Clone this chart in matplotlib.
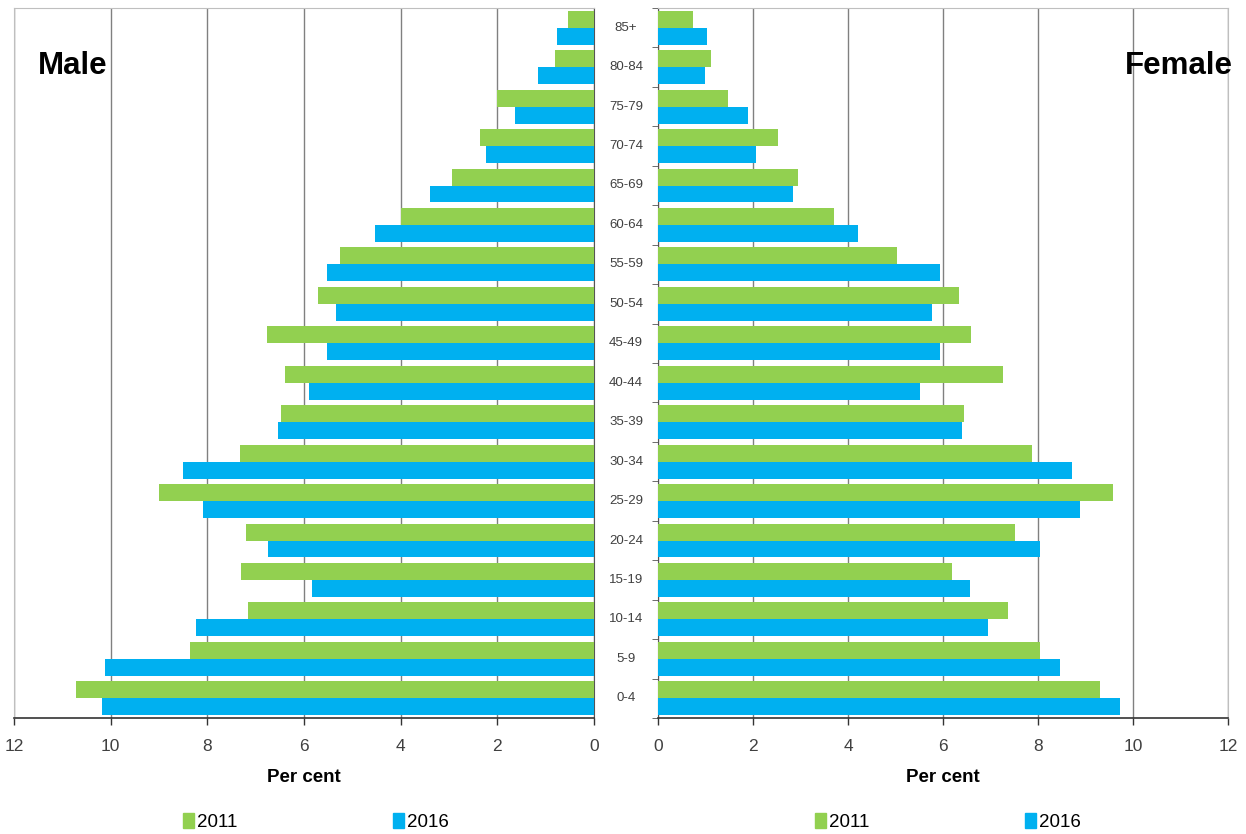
import matplotlib
matplotlib.use("Agg")
import matplotlib.pyplot as plt
from matplotlib.patches import Patch
from matplotlib.ticker import MultipleLocator
import numpy as np

plt.rcParams["font.family"] = ["Liberation Sans", "DejaVu Sans"]

# grupos etarios, de baixo para cima
idades = ["0-4", "5-9", "10-14", "15-19", "20-24", "25-29", "30-34", "35-39",
          "40-44", "45-49", "50-54", "55-59", "60-64", "65-69", "70-74",
          "75-79", "80-84", "85+"]

homens_2011 = [10.72, 8.36, 7.16, 7.31, 7.2, 8.99, 7.33, 6.48, 6.4, 6.77,
               5.71, 5.26, 4.0, 2.94, 2.36, 2.0, 0.81, 0.54]
homens_2016 = [10.17, 10.12, 8.24, 5.84, 6.75, 8.1, 8.51, 6.54, 5.9, 5.53,
               5.34, 5.53, 4.53, 3.4, 2.24, 1.64, 1.16, 0.77]
mulheres_2011 = [9.3, 8.04, 7.37, 6.19, 7.52, 9.58, 7.87, 6.44, 7.26, 6.59,
                 6.34, 5.03, 3.7, 2.95, 2.53, 1.47, 1.12, 0.74]
mulheres_2016 = [9.73, 8.46, 6.95, 6.57, 8.04, 8.88, 8.72, 6.4, 5.52, 5.94,
                 5.77, 5.94, 4.21, 2.84, 2.06, 1.89, 0.99, 1.03]

anos = ["2011", "2016"]
cor_2011 = "#92D050"
cor_2016 = "#00B0F0"

W, H = 1246, 834
fig = plt.figure(figsize=(W / 100, H / 100), dpi=100)

def caixa(x0, x1, y0, y1):
    return [x0 / W, 1 - y1 / H, (x1 - x0) / W, (y1 - y0) / H]

ax_h = fig.add_axes(caixa(14, 594, 8, 718))
ax_m = fig.add_axes(caixa(658, 1228, 8, 718))

y = np.arange(len(idades))
alt = 0.43

for ax, d11, d16 in [(ax_h, homens_2011, homens_2016), (ax_m, mulheres_2011, mulheres_2016)]:
    ax.barh(y + alt / 2, d11, height=alt, color=cor_2011, zorder=3)
    ax.barh(y - alt / 2, d16, height=alt, color=cor_2016, zorder=3)
    ax.set_xlim(0, 12)
    ax.set_ylim(-0.5, len(idades) - 0.5)
    ax.xaxis.set_major_locator(MultipleLocator(2))
    ax.grid(axis="x", color="#808080", linewidth=1.0, zorder=0)
    ax.set_yticks([])
    ax.tick_params(axis="x", direction="out", length=5, width=1, colors="#333333",
                   labelsize=12.5, labelcolor="#404040", pad=10)
    ax.set_xlabel("Per cent", fontsize=13.5, fontweight="bold", labelpad=11)
    for lado in ["top", "left", "right"]:
        ax.spines[lado].set_color("#bfbfbf")
    ax.spines["bottom"].set_color("#333333")
    ax.spines["bottom"].set_linewidth(1.2)

ax_h.invert_xaxis()
ax_h.spines["right"].set_color("#555555")
ax_m.spines["left"].set_color("#555555")

# marcas entre grupos no eixo feminino
ax_m.set_yticks(np.arange(-0.5, len(idades), 1.0), minor=True)
ax_m.tick_params(axis="y", which="minor", length=4, color="#555555", direction="out")

for i, rot in enumerate(idades):
    ax_m.text(-32 / 570, i, rot, transform=ax_m.get_yaxis_transform(),
              ha="center", va="center", fontsize=9.5, color="#404040")

fig.text(38 / W, 1 - 66 / H, "Male", fontsize=22.5, fontweight="bold", va="center", ha="left")
fig.text(1233 / W, 1 - 66 / H, "Female", fontsize=22.5, fontweight="bold", va="center", ha="right")

alcas = [Patch(color=cor_2011), Patch(color=cor_2016)]
for cx in [316, 948]:
    fig.legend(alcas, anos, loc="center", bbox_to_anchor=(cx / W, 1 - 822 / H),
               ncol=2, frameon=False, fontsize=13.5, handlelength=0.6, handleheight=0.9,
               handletextpad=0.15, columnspacing=8.3)

fig.savefig("out.png", dpi=100)
